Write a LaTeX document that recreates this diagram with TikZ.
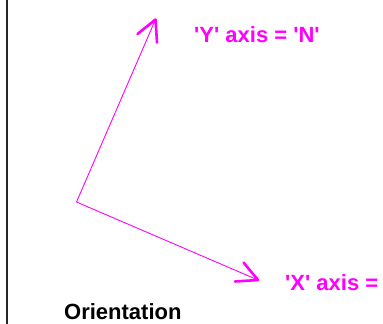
\documentclass[tikz,border=0pt]{standalone}
\usepackage{fontspec}
\setmainfont{Liberation Sans}
\definecolor{mag}{RGB}{255,0,255}
\newcommand\sqt{\textquotesingle}
\begin{document}
\begin{tikzpicture}[x=1pt,y=-1pt,
  shaft/.style={draw=mag,line width=0.9pt},
  barb/.style={draw=mag,line width=2.6pt,line cap=round,line join=round},
  lbl/.style={anchor=base west,inner sep=0pt,font=\fontsize{22}{26}\selectfont\bfseries},
  border/.style={draw=black!85,line width=2pt}]
\useasboundingbox (0,0) rectangle (383,324);
\clip (0,0) rectangle (383,324);
\coordinate (lt) at (7,0);
\coordinate (lb) at (7,324);
\draw[border] (lt) -- (lb);
\coordinate (o) at (76.5,202);
\coordinate (ytip) at (155.5,19.5);
\coordinate (yb1) at (137.5,34);
\coordinate (yb2) at (157,42.5);
\coordinate (xtip) at (258,280);
\coordinate (xb1) at (243.5,262.5);
\coordinate (xb2) at (235,281.5);
\draw[shaft] (ytip) -- (o) -- (xtip);
\draw[barb] (yb1) -- (ytip) -- (yb2);
\draw[barb] (xb1) -- (xtip) -- (xb2);
\node[lbl,text=mag] (ylab) at (194,42) {\sqt Y\sqt{} axis = \sqt N\sqt};
\node[lbl,text=mag] (xlab) at (285,290) {\sqt X\sqt{} axis =};
\node[lbl,text=black] (orient) at (64,319) {Orientation};
\end{tikzpicture}
\end{document}
